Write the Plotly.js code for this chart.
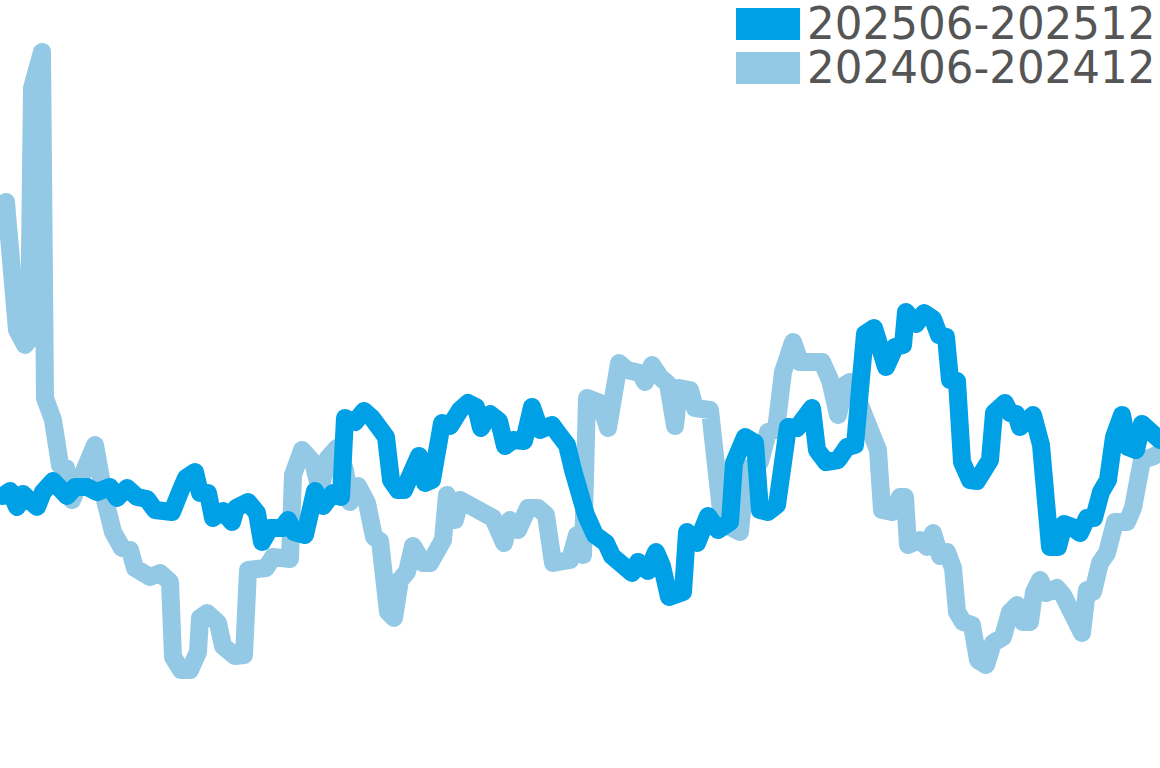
<!DOCTYPE html>
<html>
<head>
<meta charset="utf-8">
<script src="https://cdn.plot.ly/plotly-3.0.1.min.js"></script>
<style>
  html, body { margin: 0; padding: 0; background: #ffffff; }
  #plot { width: 1160px; height: 768px; }
  /* rounded corners on the thick lines, like the original */
  #plot .scatterlayer path.js-line { stroke-linejoin: round; stroke-linecap: round; }
</style>
</head>
<body>
<div id="plot"></div>
<script>
// series names (legend order: current period first)
const SERIES_NAMES = ["202506-202512", "202406-202412"];

// 2025 period: position in period, value
const x2025 = [0.6, 2.0, 3.4, 4.6, 7.4, 8.6, 10.6, 12.4, 13.4, 15.0, 17.4, 19.4, 22.0, 23.4, 25.4, 27.4, 29.4, 31.0, 33.0, 34.4,
  36.0, 37.2, 39.0, 40.0, 41.6, 42.6, 44.6, 46.4, 47.2, 49.6, 51.4, 52.4, 54.0, 56.4, 57.6, 58.8, 61.0, 63.0, 64.6, 66.6,
  68.2, 69.0, 71.0, 72.8, 74.4, 75.6, 77.2, 78.2, 79.6, 80.8, 82.2, 83.8, 85.0, 86.4, 88.4, 90.0, 92.0, 93.6, 95.2, 96.2,
  98.0, 99.8, 101.0, 102.6, 104.8, 106.4, 108.0, 110.4, 112.0, 113.4, 114.6, 115.6, 117.2, 119.0, 121.2, 122.4, 124.4, 126.4, 127.6, 129.6,
  131.2, 132.4, 133.8, 136.6, 137.4, 139.4, 141.6, 143.6, 146.0, 146.8, 149.0, 151.0, 152.0, 153.6, 155.4, 157.6, 159.4, 162.4, 163.4, 165.2,
  167.6, 169.4, 171.0, 173.0, 174.8, 177.2, 179.0, 180.6, 181.2, 183.2, 184.8, 186.6, 187.8, 189.2, 190.0, 191.4, 192.4, 194.0, 195.4, 196.8,
  198.0, 198.8, 200.4, 201.0, 202.0, 203.2, 204.0, 205.2, 206.6, 208.2, 209.2, 210.0, 211.6, 212.8, 214.4, 216.0, 217.4, 218.8, 220.2, 221.6,
  222.8, 224.4, 225.6, 227.2, 228.4, 230.0, 232.0];
const y2025 = [27.2, 27.7, 26.1, 27.4, 26.1, 27.6, 28.7, 27.8, 27.2, 28.1, 28.1, 27.6, 28.1, 27.0, 28.0, 27.1, 26.9, 25.8, 25.5, 25.6,
  27.6, 29.0, 29.6, 27.5, 27.5, 25.0, 25.7, 24.6, 26.0, 26.6, 25.5, 22.6, 24.0, 24.0, 24.8, 23.6, 23.3, 27.7, 26.2, 27.5,
  27.1, 35.0, 34.6, 35.7, 35.0, 34.3, 33.1, 28.8, 27.8, 27.8, 29.6, 31.2, 28.5, 28.8, 34.5, 34.2, 35.8, 36.5, 36.1, 34.0,
  35.4, 34.7, 32.2, 32.8, 32.7, 36.1, 33.8, 34.3, 33.2, 32.3, 29.8, 27.3, 25.3, 23.3, 22.5, 21.2, 20.5, 19.5, 20.6, 19.7,
  21.6, 20.2, 17.1, 17.6, 23.6, 22.5, 25.2, 23.8, 24.6, 30.5, 33.1, 32.5, 25.8, 25.6, 26.3, 34.1, 34.0, 36.0, 31.8, 30.6,
  30.8, 32.1, 32.3, 43.4, 44.0, 40.1, 42.1, 42.3, 45.6, 44.4, 45.5, 44.9, 43.3, 43.1, 38.8, 38.7, 30.6, 28.8, 28.7, 30.2,
  30.8, 35.5, 36.3, 36.5, 35.5, 35.4, 34.1, 34.6, 35.3, 32.3, 25.5, 22.1, 22.1, 24.4, 24.1, 23.5, 25.0, 25.0, 27.6, 28.8,
  33.1, 35.3, 32.1, 31.8, 34.4, 33.8, 32.8];

// 2024 period: position in period, value
const x2024 = [1.2, 2.4, 3.4, 5.0, 5.8, 6.4, 8.4, 9.0, 10.6, 12.0, 13.2, 14.4, 16.0, 19.0, 21.0, 22.6, 24.4, 26.0, 27.0, 30.0,
  32.0, 34.0, 34.6, 36.2, 38.0, 39.6, 40.0, 41.4, 43.6, 44.6, 47.0, 48.8, 49.6, 53.2, 54.6, 58.0, 58.6, 60.4, 62.6, 64.0,
  65.6, 67.4, 69.0, 70.0, 71.6, 73.4, 74.8, 76.0, 77.6, 78.8, 80.0, 81.4, 82.6, 84.6, 86.0, 87.4, 88.6, 89.4, 91.0, 92.0,
  94.0, 96.6, 98.6, 100.8, 102.0, 103.6, 105.6, 107.6, 109.2, 110.6, 112.6, 114.0, 115.4, 116.6, 117.4, 120.0, 121.6, 122.6, 123.8, 125.4,
  128.0, 129.0, 130.4, 132.0, 133.6, 135.0, 135.8, 138.0, 139.0, 142.0, 143.2, 144.4, 146.0, 148.0, 149.2, 152.0, 153.6, 155.2, 156.6, 158.6,
  160.0, 163.0, 164.4, 166.0, 167.6, 169.0, 170.0, 171.6, 173.2, 175.6, 176.4, 178.4, 180.0, 181.0, 181.6, 184.0, 185.4, 186.6, 188.0, 189.4,
  190.6, 191.4, 192.6, 194.4, 195.6, 197.2, 198.6, 200.6, 202.0, 203.4, 204.6, 206.0, 206.8, 208.0, 209.2, 211.4, 212.6, 214.0, 215.4, 216.4,
  217.4, 218.6, 220.0, 221.4, 223.0, 225.4, 226.6, 228.4, 230.4, 232.0];
const y2024 = [56.6, 50.3, 43.8, 42.3, 42.8, 68.0, 71.6, 37.0, 34.8, 30.3, 30.0, 26.8, 29.0, 32.3, 26.8, 23.6, 22.0, 21.8, 20.0, 19.1,
  19.5, 18.6, 11.1, 9.8, 9.8, 11.6, 15.0, 15.5, 14.5, 12.2, 11.2, 11.3, 19.8, 20.0, 21.1, 20.9, 29.3, 31.8, 30.6, 27.8,
  31.0, 32.0, 29.8, 26.6, 28.2, 26.5, 23.1, 22.7, 15.6, 15.0, 18.8, 19.6, 22.2, 20.5, 20.5, 22.3, 22.8, 27.3, 24.8, 26.8,
  26.2, 25.9, 25.0, 22.5, 24.8, 23.8, 26.0, 26.0, 25.3, 20.5, 20.5, 20.8, 23.3, 21.3, 37.0, 36.5, 34.0, 38.8, 40.5, 39.8,
  39.5, 38.6, 40.3, 39.1, 38.4, 34.2, 38.0, 37.8, 36.0, 35.8, 31.3, 24.8, 24.1, 23.6, 29.8, 30.6, 33.6, 33.8, 39.6, 42.6,
  40.6, 40.8, 40.6, 38.8, 35.3, 38.3, 38.6, 36.8, 34.3, 31.8, 25.8, 25.6, 27.1, 27.1, 22.3, 22.8, 22.1, 23.5, 21.2, 21.6,
  20.0, 15.6, 14.6, 14.3, 10.8, 10.3, 12.5, 13.1, 15.6, 16.3, 14.6, 14.6, 17.6, 18.8, 17.5, 18.0, 17.3, 16.0, 14.1, 13.5,
  17.8, 17.6, 20.5, 21.5, 24.6, 24.6, 26.0, 30.8, 31.1, 31.5];

const COLOR_2025 = "#00a0e6";
const COLOR_2024 = "#93c9e4";

function renderChart() {
  const trace2024 = {
    type: "scatter",
    mode: "lines",
    name: SERIES_NAMES[1],
    x: x2024,
    y: y2024,
    line: { color: COLOR_2024, width: 18 },
    hoverinfo: "skip",
    showlegend: false,
  };

  const trace2025 = {
    type: "scatter",
    mode: "lines",
    name: SERIES_NAMES[0],
    x: x2025,
    y: y2025,
    line: { color: COLOR_2025, width: 18 },
    hoverinfo: "skip",
    showlegend: false,
  };

  // legend drawn by hand: big colour blocks with text next to them
  const legendColors = [COLOR_2025, COLOR_2024];
  const shapes = legendColors.map((c, i) => ({
    type: "rect",
    xref: "paper",
    yref: "paper",
    x0: 0.6345,
    x1: 0.6897,
    y0: 0.9479 - i * 0.0573,
    y1: 0.9896 - i * 0.0573,
    fillcolor: c,
    line: { width: 0 },
    layer: "above",
  }));
  const annotations = SERIES_NAMES.map((name, i) => ({
    text: name,
    xref: "paper",
    yref: "paper",
    x: 0.6940,
    y: 0.9688 - i * 0.0573,
    xanchor: "left",
    yanchor: "middle",
    showarrow: false,
    font: { family: "DejaVu Sans", size: 43.6, color: "#555555" },
  }));

  const layout = {
    width: 1160,
    height: 768,
    paper_bgcolor: "#ffffff",
    plot_bgcolor: "#ffffff",
    margin: { l: 0, r: 0, t: 0, b: 0 },
    showlegend: false,
    xaxis: { range: [0, 232], visible: false, fixedrange: true },
    yaxis: { range: [0, 76.8], visible: false, fixedrange: true },
    shapes,
    annotations,
  };

  Plotly.newPlot("plot", [trace2024, trace2025], layout, {
    staticPlot: true,
    displayModeBar: false,
  });
}

renderChart();
</script>
</body>
</html>
